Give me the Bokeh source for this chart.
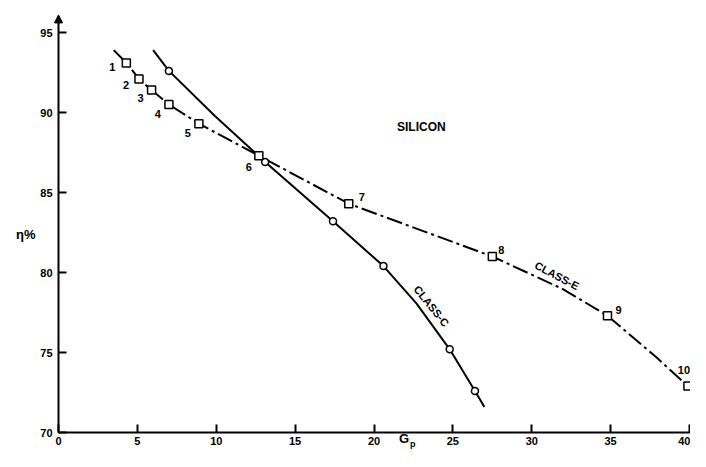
from bokeh.plotting import figure
from bokeh.models import Range1d, Label, FixedTicker, ColumnDataSource, LinearAxis, Arrow, NormalHead
from bokeh.embed import file_html
from bokeh.resources import INLINE
from bokeh.core.properties import value

# ---- data ----
# Class-E measured points (squares), numbered 1..10
e_num = ["1", "2", "3", "4", "5", "6", "7", "8", "9", "10"]
e_gp = [4.3, 5.1, 5.9, 7.0, 8.9, 12.7, 18.4, 27.5, 34.8, 39.9]
e_eta = [93.1, 92.1, 91.4, 90.5, 89.3, 87.3, 84.3, 81.0, 77.3, 72.9]

# Class-E curve as drawn
e_curve_gp = [3.5, 4.3, 5.1, 5.9, 7.0, 8.9, 12.7, 18.4, 27.5, 31.9, 34.8, 37.9, 39.9, 40.6]
e_curve_eta = [93.9, 93.1, 92.1, 91.4, 90.5, 89.3, 87.3, 84.3, 81.0, 79.0, 77.3, 74.7, 72.9, 72.1]

# Class-C measured points (circles)
c_gp = [7.0, 13.1, 17.4, 20.6, 24.8, 26.4]
c_eta = [92.6, 86.9, 83.2, 80.4, 75.2, 72.6]

# Class-C curve as drawn
c_curve_gp = [6.0, 7.0, 9.9, 13.1, 17.4, 20.6, 22.7, 24.8, 26.4, 27.0]
c_curve_eta = [93.9, 92.6, 89.8, 86.9, 83.2, 80.4, 78.05, 75.2, 72.6, 71.6]

x_ticks = [0, 5, 10, 15, 20, 25, 30, 35, 40]
y_ticks = [70, 75, 80, 85, 90, 95]
x_min, x_max = 0, 40
y_min, y_max = 70, 95

# label offsets (screen px) for the point numbers
num_dx = [-14, -13, -11, -11, -11, -10, 13, 9, 11, -4]
num_dy = [4, 6, 8, 9, 9, 11, -7, -7, -6, -16]

FONT = "Liberation Sans"

p = figure(width=690, height=451, output_backend="svg", toolbar_location=None,
           x_range=Range1d(-3.677, 40.063), y_range=Range1d(68.8125, 97.0),
           x_axis_location=None, y_axis_location=None,
           min_border_left=0, min_border_right=0, min_border_top=0, min_border_bottom=0)
p.outline_line_color = None
p.xgrid.visible = False
p.ygrid.visible = False
p.background_fill_color = "white"

xax = LinearAxis(fixed_location=y_min, bounds=(x_min, 40.06))
yax = LinearAxis(fixed_location=x_min, bounds=(y_min, 96.0))
p.add_layout(xax, "below")
p.add_layout(yax, "left")

for ax, ticks in ((xax, x_ticks), (yax, y_ticks)):
    ax.ticker = FixedTicker(ticks=ticks)
    ax.major_tick_in = 8
    ax.major_tick_out = 0
    ax.minor_tick_line_color = None
    ax.axis_line_width = 2
    ax.axis_line_color = "black"
    ax.major_tick_line_width = 2
    ax.major_tick_line_color = "black"
    ax.major_label_text_font = FONT
    ax.major_label_text_font_style = "bold"
    ax.major_label_text_font_size = "11px"
    ax.major_label_text_color = "black"
xax.major_label_standoff = 4
yax.major_label_standoff = 6

# arrow head on top of the y axis
p.add_layout(Arrow(end=NormalHead(size=8, fill_color="black", line_color="black"),
                   x_start=x_min, y_start=95.6, x_end=x_min, y_end=96.1,
                   line_color="black", line_width=2))

# curves
p.line(c_curve_gp, c_curve_eta, line_color="black", line_width=2)
p.line(e_curve_gp, e_curve_eta, line_color="black", line_width=2, line_dash="16 4 3 4")

# markers
p.scatter(c_gp, c_eta, marker="circle", size=7, fill_color="white",
          line_color="black", line_width=1.5)
p.scatter(e_gp, e_eta, marker="square", size=8, fill_color="white",
          line_color="black", line_width=1.5)

# point numbers
src = ColumnDataSource(dict(x=e_gp, y=e_eta, t=e_num, dx=num_dx, dy=num_dy))
p.text(x="x", y="y", text="t", x_offset="dx", y_offset="dy", source=src,
       text_font=value(FONT), text_font_style="bold", text_font_size="11px",
       text_align="center", text_baseline="middle", text_color="black")

# annotations
def lab(x, y, text, size, angle=0.0):
    p.add_layout(Label(x=x, y=y, text=text, text_font=FONT, text_font_style="bold",
                       text_font_size=size, text_align="center", text_baseline="middle",
                       text_color="black", angle=angle))

lab(23.0, 89.1, "SILICON", "12px")
lab(23.65, 77.9, "CLASS-C", "11px", -0.89)
lab(31.6, 79.8, "CLASS-E", "11px", -0.48)
lab(-2.07, 82.4, "η%", "13px")
lab(21.9, 69.6, "G", "13px")
lab(22.45, 69.3, "p", "9px")

open("out.html", "w").write(file_html(p, INLINE))
